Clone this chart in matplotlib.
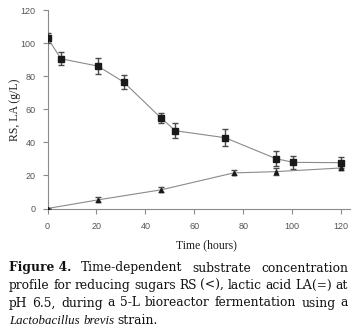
import matplotlib
matplotlib.use("Agg")
import matplotlib.pyplot as plt

# ---- data ----
rs_time = [0, 5.5, 20.6, 31.1, 46.5, 52.3, 72.6, 93.5, 100.5, 120]
rs_val = [103.2, 90.5, 86.1, 76.5, 54.6, 47.0, 42.8, 30.1, 27.9, 27.7]
rs_err = [3.0, 4.0, 5.0, 4.5, 3.0, 4.5, 5.0, 4.5, 4.0, 3.5]

la_time = [0, 20.6, 46.5, 76.1, 93.5, 120]
la_val = [0.0, 5.2, 11.3, 21.5, 22.3, 24.5]
la_err = [0.5, 1.5, 1.5, 1.5, 2.0, 1.0]

x_ticks = [0, 20, 40, 60, 80, 100, 120]
y_ticks = [0, 20, 40, 60, 80, 100, 120]

W, H = 356, 331
fig = plt.figure(figsize=(W / 100, H / 100), dpi=100)
ax = fig.add_axes([47.5 / W, 1 - 208.5 / H, (350 - 47.5) / W, (208.5 - 10) / H])

serif = "Liberation Serif"
line_c = "#8a8a8a"

ax.errorbar(rs_time, rs_val, yerr=rs_err, color=line_c, lw=0.8, marker="s",
            ms=4.2, mfc="#1a1a1a", mec="#1a1a1a", ecolor="#4a4a4a", elinewidth=1.0,
            capsize=2.5, capthick=1.0, zorder=3)
ax.errorbar(la_time, la_val, yerr=la_err, color=line_c, lw=0.8, marker="^",
            ms=3, mfc="#1a1a1a", mec="#1a1a1a", ecolor="#4a4a4a", elinewidth=1.0,
            capsize=2.5, capthick=1.0, zorder=3)

ax.set_xlim(0, 123.7)
ax.set_ylim(0, 120)
ax.set_xticks(x_ticks)
ax.set_yticks(y_ticks)
for s in ["top", "right"]:
    ax.spines[s].set_visible(False)
for s in ["left", "bottom"]:
    ax.spines[s].set_color("#8a8a8a")
    ax.spines[s].set_linewidth(0.8)
    ax.spines[s].set_clip_on(False)
ax.tick_params(direction="out", length=3.5, width=0.8, color="#8a8a8a",
               labelsize=6.5, labelcolor="#555555")
ax.tick_params(axis="x", pad=6)
ax.tick_params(axis="y", pad=5)
for lab in ax.get_xticklabels() + ax.get_yticklabels():
    lab.set_fontfamily("Liberation Sans")

fig.text(206 / W, 1 - 245 / H, "Time (hours)", family=serif, fontsize=8.5,
         ha="center", va="center", color="#202020")
fig.text(15 / W, 1 - 110 / H, "RS, LA (g/L)", family=serif, fontsize=8.5,
         ha="center", va="center", rotation=90, color="#202020")

# ---- caption (justified) ----
R, B, I = ("DejaVu Serif", "normal", "normal"), ("DejaVu Serif", "bold", "normal"), \
    ("Liberation Serif", "normal", "italic")
caption_lines = [
    [("Figure 4.", B), ("Time-dependent", R), ("substrate", R), ("concentration", R)],
    [("profile", R), ("for", R), ("reducing", R), ("sugars", R), ("RS", R), ("(<),", R),
     ("lactic", R), ("acid", R), ("LA(=)", R), ("at", R)],
    [("pH", R), ("6.5,", R), ("during", R), ("a", R), ("5-L", R), ("bioreactor", R),
     ("fermentation", R), ("using", R), ("a", R)],
    [("Lactobacillus", I), ("brevis", I), ("strain.", R)],
]
line_y = [268, 285.5, 303, 320.5]
x0, x1 = 9, 348
cap_fs = 8.8
renderer = fig.canvas.get_renderer()
for li, (words, yy) in enumerate(zip(caption_lines, line_y)):
    texts = []
    for w, (fam, wt, st) in words:
        fs = cap_fs if st == "normal" else cap_fs * 1.06
        t = fig.text(0, 1 - yy / H, w, family=fam, fontsize=fs, weight=wt,
                     style=st, ha="left", va="center", color="#111111")
        texts.append(t)
    widths = [t.get_window_extent(renderer).width for t in texts]
    if li < len(caption_lines) - 1:
        gap = (x1 - x0 - sum(widths)) / (len(words) - 1)
    else:
        gap = cap_fs * 100 / 72 * 0.28
    x = x0
    for t, wd in zip(texts, widths):
        t.set_x(x / W)
        x += wd + gap

fig.savefig("out.png", dpi=100)
